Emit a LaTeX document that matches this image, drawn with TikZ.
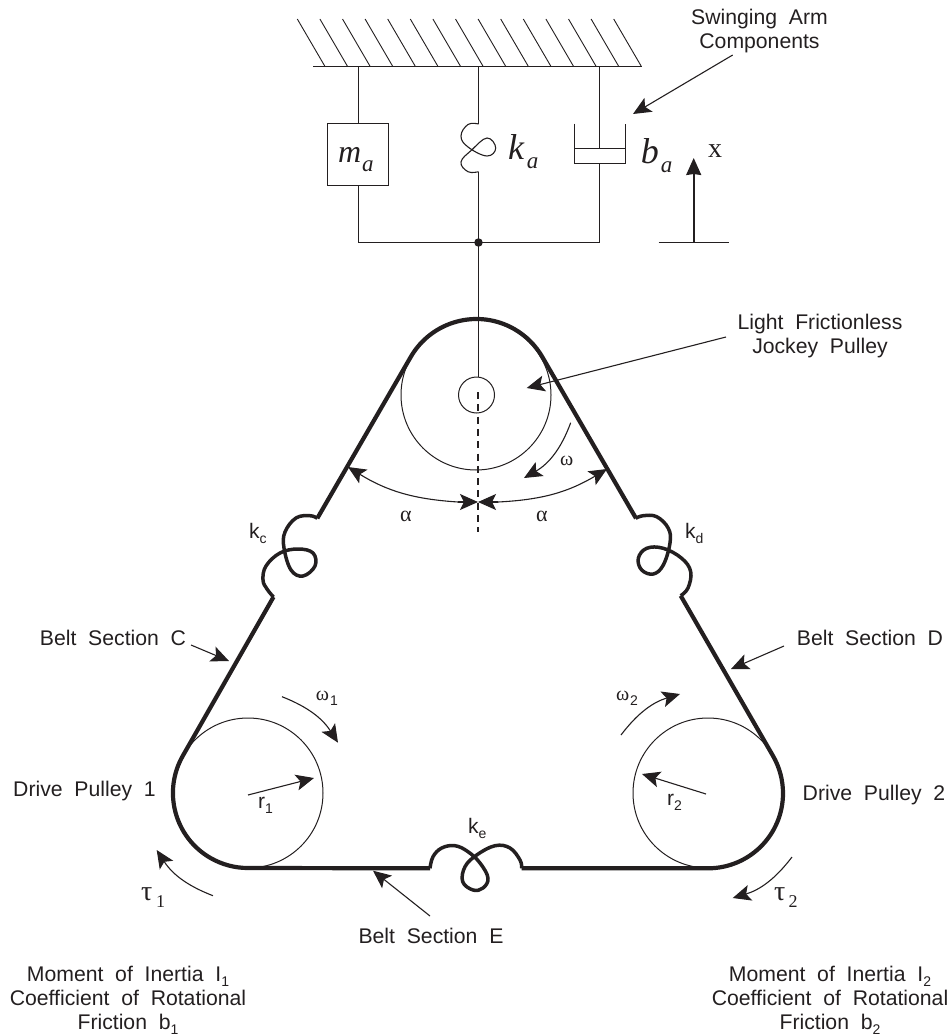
\documentclass[tikz,border=0pt]{standalone}
\usepackage{fontspec}
\setmainfont{Liberation Sans}[WordSpace=2]
\newfontfamily\serifx{Liberation Serif}
\usetikzlibrary{arrows.meta}
\definecolor{ink}{HTML}{231F20}
\newcommand\lowsub[1]{\raisebox{-5pt}{\fontsize{14}{14}\selectfont #1}}
\tikzset{
  x=1pt,y=-1pt,
  thin line/.style={color=ink,line width=1.1pt},
  belt/.style={color=ink,line width=4.2pt,line cap=butt,line join=round},
  coil/.style={color=ink,line width=3.5pt,line cap=butt,line join=round},
  tip/.style={-{Stealth[length=18pt,width=16pt,inset=4pt]}},
  pointer/.style={thin line,tip},
  lbl/.style={inner sep=0pt,anchor=base,text=ink,font=\fontsize{21.2}{24}\selectfont,align=center},
  blk/.style={inner sep=0pt,anchor=center,text=ink,font=\fontsize{21.2}{24}\selectfont,align=center},
  sym/.style={inner sep=0pt,anchor=base west,text=ink},
  wheel/.style={circle,draw=ink,line width=1pt,inner sep=0pt,minimum size=#1},
}
\begin{document}
\begin{tikzpicture}
\useasboundingbox (0,0) rectangle (952,1036);
% ceiling
\coordinate (cl) at (313,66.5); \coordinate (cr) at (642,66.5);
\draw[thin line] (cl) -- (cr);
\foreach \k in {0,...,14}{
  \draw[color=ink,line width=0.9pt] ({297.3+22.6*\k},19) -- ({325+22.6*\k},66.5);
}
% suspension
\coordinate (cm) at (358.5,66.5); \coordinate (ck) at (478.5,66.5); \coordinate (cd) at (599.5,66.5);
\coordinate (bm) at (358.5,242.5); \coordinate (bdr) at (599.5,242.5);
\coordinate (dtop) at (599.5,148.5); \coordinate (dbot) at (599.5,163.5);
\node[draw=ink,line width=1.1pt,inner sep=0pt,minimum width=61pt,minimum height=61.5pt] (mass) at (358,154.5) {};
\node[circle,fill=ink,inner sep=0pt,minimum size=8.5pt] (junction) at (478.5,242.5) {};
\coordinate (ktop) at (478.5,124); \coordinate (kbot) at (478.5,171.7);
\draw[thin line] (cm) -- (cm |- mass.north);
\draw[thin line] (bm |- mass.south) -- (bm) -- (bdr) -- (dbot);
\draw[thin line] (ck) -- (ktop);
\draw[thin line] (kbot) -- (junction.center);
\draw[thin line] plot[smooth,tension=0.7] coordinates {(478.5,124) (468,124.5) (461,136) (468,147) (487,156) (495.7,148) (487,138) (471.7,150) (461,162) (468,171.7) (478.5,171.7)};
% damper
\draw[thin line] (cd) -- (dtop);
\draw[thin line] (574.5,123.5) -- (574.5,163.5) -- (625.5,163.5) -- (625.5,123.5);
\draw[thin line] (574.5,148.5) -- (625.5,148.5);
% jockey pulley
\node[wheel=150pt] (jockey) at (476,395) {};
\node[wheel=36pt,fill=white] (hub) at (476.5,395) {};
\draw[thin line] (junction.center) -- (478.5,377);
% drive pulleys
\node[wheel=150pt] (p1) at (248,793) {};
\node[wheel=150pt] (p2) at (708,793) {};
% belt
\draw[belt] (317.3,518.3) -- (410.7,357) arc[start angle=210,end angle=330,radius=76] -- (636,518.3);
\draw[coil] plot[smooth,tension=0.65] coordinates {(317.3,518.3) (310,515.7) (296,518) (285,532) (284,548) (291,570) (303,576) (315,566) (313,553) (298,549) (280,553) (266,566) (263,580) (267,589) (273.5,597)};
\draw[coil] plot[smooth,tension=0.65] coordinates {(635.7,518.3) (643.3,515.7) (656.7,516.7) (668.3,528.3) (670,543) (663.3,565) (653.3,574) (641.7,570) (638.3,558.3) (646.7,548.3) (663.3,548.3) (681.7,558.3) (690.7,571.7) (688,588) (680.7,595.7)};
\draw[belt] (273.5,597) -- (183,755.5) arc[start angle=210,end angle=90,radius=75] -- (430,868.3);
\draw[coil] plot[smooth,tension=0.65] coordinates {(430,868.3) (433,856.7) (441.7,848) (455,845.7) (468,851.7) (480,863) (488,878) (483,888) (473,890) (462.7,881.7) (465,866.7) (476.7,855) (495,845.7) (510,848) (520,860) (521.7,868.3)};
\draw[belt] (521.7,868.3) -- (708,868.3) arc[start angle=90,end angle=-30,radius=75] -- (680.7,595.7);
% dashed axis
\coordinate (ax0) at (478,392); \coordinate (ax1) at (478,532);
\draw[color=ink,line width=1.7pt,dash pattern=on 7pt off 5.3pt] (ax0) -- (ax1);
% arrows
\coordinate (am) at (478,502);
\coordinate (al) at (348,467); \coordinate (ar) at (607,469);
\coordinate (amr) at (498,502); \coordinate (aml) at (458,502);
\draw[pointer] (amr) -- (am);
\draw[pointer] (aml) -- (am);
\draw[pointer] (aml) to[bend left=14] (al);
\draw[pointer] (amr) to[bend right=14] (ar);
\coordinate (w0) at (570.7,422.7); \coordinate (w1) at (524,478);
\draw[pointer] (w0) to[bend left=20] (w1);
\coordinate (w10) at (282,696.7); \coordinate (w11) at (338,742.7);
\draw[pointer] (w10) to[bend left=18] (w11);
\coordinate (t10) at (213,895.7); \coordinate (t11) at (156.7,850);
\draw[pointer] (t10) to[bend left=18] (t11);
\coordinate (w20) at (621,735); \coordinate (w21) at (680,694);
\draw[pointer] (w20) to[bend left=18] (w21);
\coordinate (t20) at (792,857); \coordinate (t21) at (732.7,898);
\draw[pointer] (t20) to[bend left=18] (t21);
\coordinate (r10) at (248,795); \coordinate (r11) at (314,778);
\draw[pointer] (r10) -- (r11);
\coordinate (r20) at (706,794); \coordinate (r21) at (642,774);
\draw[pointer] (r20) -- (r21);
\coordinate (xb) at (693.7,242.5); \coordinate (xt) at (693.7,158);
\coordinate (xl) at (658.7,242.5); \coordinate (xr) at (729,242.5);
\draw[thin line] (xl) -- (xr);
\draw[color=ink,line width=1.8pt,-{Stealth[length=17pt,width=15pt,inset=1pt]}] (xb) -- (xt);
% labels
\node[blk] (swing) at (759.5,31.5) {Swinging Arm\\Components};
\node[blk] (light) at (820,336.5) {Light Frictionless\\Jockey Pulley};
\node[lbl] (bc) at (113,645) {Belt Section C};
\node[lbl] (bsd) at (870,645) {Belt Section D};
\node[lbl] (be) at (431,943) {Belt Section E};
\node[lbl] (dp1) at (84.5,796) {Drive Pulley 1};
\node[lbl] (dp2) at (874,800) {Drive Pulley 2};
\node[blk] (mi1) at (128,1000) {Moment of Inertia I\lowsub{1}\\Coefficient of Rotational\\Friction b\lowsub{1}};
\node[blk] (mi2) at (830,1000) {Moment of Inertia I\lowsub{2}\\Coefficient of Rotational\\Friction b\lowsub{2}};
\coordinate (s0) at (732.7,55); \coordinate (s1) at (633,114);
\draw[pointer] (s0) -- (s1);
\coordinate (j0) at (726,337); \coordinate (j1) at (526.7,388);
\draw[pointer] (j0) -- (j1);
\coordinate (c0) at (191,645); \coordinate (c1) at (229,661);
\draw[pointer] (c0) -- (c1);
\coordinate (d0) at (784,646); \coordinate (d1) at (731,669);
\draw[pointer] (d0) -- (d1);
\coordinate (e0) at (430,916); \coordinate (e1) at (373,870.7);
\draw[pointer] (e0) -- (e1);
% small labels
\node[sym,font=\fontsize{21}{24}\selectfont] (kc) at (249,538) {k\lowsub{c}};
\node[sym,font=\fontsize{21}{24}\selectfont] (kd) at (685,538) {k\lowsub{d}};
\node[sym,font=\fontsize{21}{24}\selectfont] (ke) at (468,833) {k\lowsub{e}};
\node[sym,font=\fontsize{21}{24}\selectfont] (r1) at (258,808) {r\lowsub{1}};
\node[sym,font=\fontsize{21}{24}\selectfont] (r2) at (667,805) {r\lowsub{2}};
% greek
\node[sym,font=\serifx\fontsize{20}{20}\selectfont] (om) at (560,465) {ω};
\node[sym,font=\serifx\fontsize{22}{22}\selectfont] (a1) at (400,521) {α};
\node[sym,font=\serifx\fontsize{22}{22}\selectfont] (a2) at (536,521) {α};
\node[sym,font=\serifx\fontsize{20}{20}\selectfont] (om1) at (315.7,700) {ω};
\node[sym,font=\fontsize{14}{14}\selectfont] (om1s) at (330,705) {1};
\node[sym,font=\serifx\fontsize{20}{20}\selectfont] (om2) at (616,700) {ω};
\node[sym,font=\fontsize{14}{14}\selectfont] (om2s) at (630,705) {2};
\node[sym,font=\serifx\fontsize{28}{28}\selectfont] (tau1) at (141,900) {τ};
\node[sym,font=\serifx\fontsize{18}{18}\selectfont] (tau1s) at (156,907) {1};
\node[sym,font=\serifx\fontsize{28}{28}\selectfont] (tau2) at (774,900) {τ};
\node[sym,font=\serifx\fontsize{18}{18}\selectfont] (tau2s) at (788.5,907) {2};
% italic block labels
\node[sym,font=\serifx\itshape\fontsize{32}{32}\selectfont] (lm) at (338,162) {m};
\node[sym,font=\serifx\itshape\fontsize{23}{23}\selectfont] (lma) at (362,171) {a};
\node[sym,font=\serifx\itshape\fontsize{36}{36}\selectfont] (lk) at (508,159) {k};
\node[sym,font=\serifx\itshape\fontsize{23}{23}\selectfont] (lka) at (526.7,168) {a};
\node[sym,font=\serifx\itshape\fontsize{36}{36}\selectfont] (lb) at (640.7,163) {b};
\node[sym,font=\serifx\itshape\fontsize{23}{23}\selectfont] (lba) at (660.7,172) {a};
\node[sym,font=\serifx\fontsize{28}{28}\selectfont] (lx) at (708,157) {x};
\end{tikzpicture}
\end{document}
